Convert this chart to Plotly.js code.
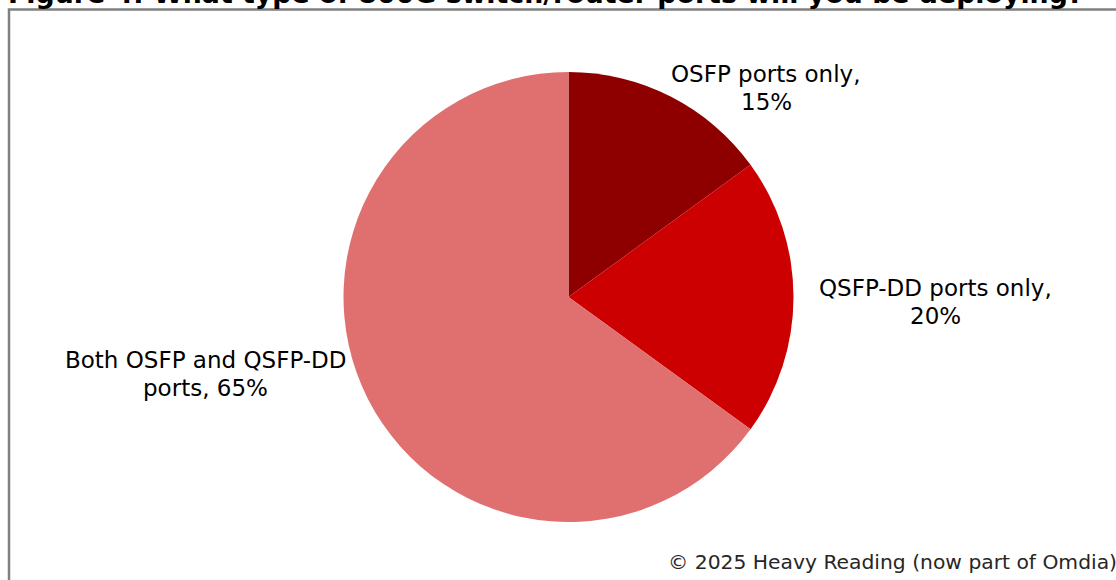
<!DOCTYPE html>
<html>
<head>
<meta charset="utf-8">
<script src="https://cdn.plot.ly/plotly-3.0.1.min.js"></script>
<style>html,body{margin:0;padding:0;background:#fff;}#chart{width:1116px;height:580px;}</style>
</head>
<body>
<div id="chart"></div>
<script>
// ---- data ----
const labels = ["OSFP ports only", "QSFP-DD ports only", "Both OSFP and QSFP-DD ports"];
const values = [15, 20, 65];
const colors = ["#8E0000", "#CC0000", "#E07070"];
const titleText = "Figure 4: What type of 800G switch/router ports will you be deploying?";
const sourceText = "© 2025 Heavy Reading (now part of Omdia)";

// ---- display config ----
const W = 1116, H = 580;
const labelBreakWords = [3, 3, 4];
const labelPos = [[766, 88], [935, 302], [205, 374]];
const lineGap = 28;
const FONT = "Verdana, 'DejaVu Sans', sans-serif";

function labelLines(i) {
  const words = (labels[i] + ", " + values[i] + "%").split(" ");
  return [words.slice(0, labelBreakWords[i]).join(" "), words.slice(labelBreakWords[i]).join(" ")];
}

const cx = 568.5, cy = 297, r = 225;
const trace = {
  type: "pie",
  labels: labels,
  values: values,
  sort: false,
  direction: "clockwise",
  rotation: 0,
  marker: { colors: colors, line: { width: 0 } },
  textinfo: "none",
  hoverinfo: "label+percent",
  domain: { x: [(cx - r) / W, (cx + r) / W], y: [(H - cy - r) / H, (H - cy + r) / H] }
};

const annotations = [];
labels.forEach((_, i) => {
  labelLines(i).forEach((line, k) => {
    annotations.push({
      xref: "paper", yref: "paper",
      x: labelPos[i][0] / W, y: 1 - (labelPos[i][1] + (k - 0.5) * lineGap) / H,
      xanchor: "center", yanchor: "middle",
      text: line, showarrow: false, align: "center",
      font: { family: FONT, size: 23, color: "#000" }
    });
  });
});
annotations.push({
  xref: "paper", yref: "paper", x: 1119 / W, y: 1 - 562 / H,
  xanchor: "right", yanchor: "middle", text: sourceText, showarrow: false,
  font: { family: FONT, size: 20.3, color: "#262626" }
});
annotations.push({
  xref: "paper", yref: "paper", x: 6 / W, y: 1 - (-6.5) / H,
  xanchor: "left", yanchor: "middle", text: "<b>" + titleText + "</b>", showarrow: false,
  font: { family: FONT, size: 26.8, color: "#000" }
});

const layout = {
  width: W, height: H,
  margin: { l: 0, r: 0, t: 0, b: 0 },
  paper_bgcolor: "#fff",
  showlegend: false,
  annotations: annotations,
  shapes: [{
    type: "rect", xref: "paper", yref: "paper",
    x0: 9 / W, x1: 1.05, y0: -0.05, y1: 1 - 9.5 / H,
    line: { color: "#808080", width: 2.5 }, fillcolor: "rgba(0,0,0,0)", layer: "above"
  }]
};

Plotly.newPlot("chart", [trace], layout, { displayModeBar: false, staticPlot: true });
</script>
</body>
</html>
